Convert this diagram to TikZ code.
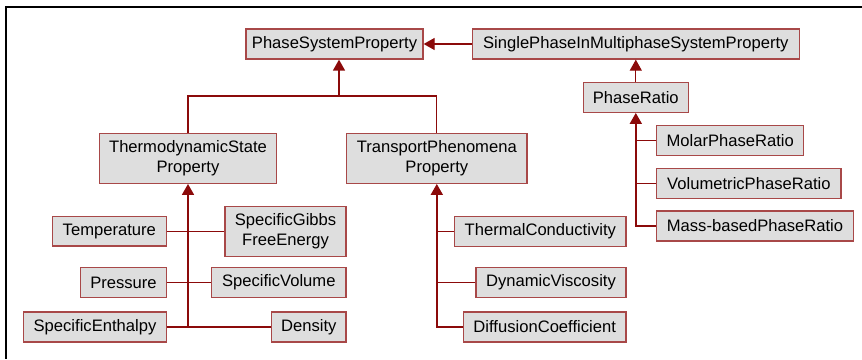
\documentclass[tikz,border=0pt]{standalone}
\usepackage{fontspec}
\setmainfont{Liberation Sans}
\usetikzlibrary{arrows.meta}
\definecolor{boxfill}{HTML}{DEDEDE}
\definecolor{boxline}{HTML}{A84848}
\definecolor{conn}{HTML}{8B0A0A}
\begin{document}
\begin{tikzpicture}[x=1pt,y=-1pt,
  cls/.style={draw=boxline,fill=boxfill,line width=1.3pt,inner sep=0pt,align=center,
    font=\fontsize{16.6}{20}\selectfont},
  link/.style={draw=conn,line width=1.1pt},
  trunk/.style={draw=conn,line width=1.8pt},
  gen/.style={-{Triangle[width=12pt,length=11pt]}}]
\useasboundingbox (0,0) rectangle (862,359);
\draw[line width=1.5pt] (862,7) -- (6,7) -- (6,359);
% nodes
\node[cls,minimum width=177pt,minimum height=30pt] (psp) at (334.5,44) {PhaseSystemProperty};
\node[cls,minimum width=327pt,minimum height=30pt] (sp) at (635.8,44) {SinglePhaseInMultiphaseSystemProperty};
\node[cls,minimum width=105pt,minimum height=29.6pt] (pr) at (635.8,97.5) {PhaseRatio};
\node[cls,minimum width=147pt,minimum height=29.6pt] (molar) at (730.2,140.5) {MolarPhaseRatio};
\node[cls,minimum width=184.3pt,minimum height=30pt] (vol) at (748.9,183.3) {VolumetricPhaseRatio};
\node[cls,minimum width=196.6pt,minimum height=30pt] (mass) at (755,226) {Mass-basedPhaseRatio};
\node[cls,minimum width=177.3pt,minimum height=50pt] (thermo) at (188,158.3) {ThermodynamicState\\Property};
\node[cls,minimum width=180.3pt,minimum height=50pt] (trans) at (436.8,158.3) {TransportPhenomena\\Property};
\node[cls,minimum width=114pt,minimum height=29.6pt] (temp) at (109.3,231.3) {Temperature};
\node[cls,minimum width=121pt,minimum height=50.3pt] (gibbs) at (285.5,231.3) {SpecificGibbs\\FreeEnergy};
\node[cls,minimum width=85.6pt,minimum height=29.6pt] (press) at (123.5,282.5) {Pressure};
\node[cls,minimum width=134.3pt,minimum height=29.6pt] (svol) at (278.8,282.5) {SpecificVolume};
\node[cls,minimum width=142.6pt,minimum height=30pt] (enth) at (95,327) {SpecificEnthalpy};
\node[cls,minimum width=74.3pt,minimum height=30pt] (dens) at (308.8,327) {Density};
\node[cls,minimum width=171.3pt,minimum height=29.6pt] (tc) at (540.3,231.5) {ThermalConductivity};
\node[cls,minimum width=150pt,minimum height=29.6pt] (dv) at (551,282.5) {DynamicViscosity};
\node[cls,minimum width=162.7pt,minimum height=30pt] (dc) at (544.7,327) {DiffusionCoefficient};
% top-level connectors
\draw[link,line width=1.3pt,gen] (sp.west) -- (psp.east);
\draw[trunk,line width=1.3pt,gen] (pr.north) -- (sp.south);
\coordinate (jt) at (339,96);
\draw[link,line width=1.3pt] (thermo.north) |- (jt) -| (trans.north);
\draw[trunk,line width=1.5pt,gen] (jt) -- (jt |- psp.south);
% phase ratio
\draw[trunk,gen] (mass.west) -| (pr.south);
\draw[link] (molar.west) -- (molar.west -| pr.south);
\draw[link] (vol.west) -- (vol.west -| pr.south);
% thermodynamic
\coordinate (tb) at (thermo.south |- enth.east);
\draw[trunk,gen] (tb) -- (thermo.south);
\draw[link] (temp.east) -- (gibbs.west);
\draw[link] (press.east) -- (svol.west);
\draw[link] (enth.east) -- (dens.west);
% transport
\draw[trunk,gen] (dc.west) -| (trans.south);
\draw[link] (tc.west) -- (tc.west -| trans.south);
\draw[link] (dv.west) -- (dv.west -| trans.south);
\end{tikzpicture}
\end{document}
